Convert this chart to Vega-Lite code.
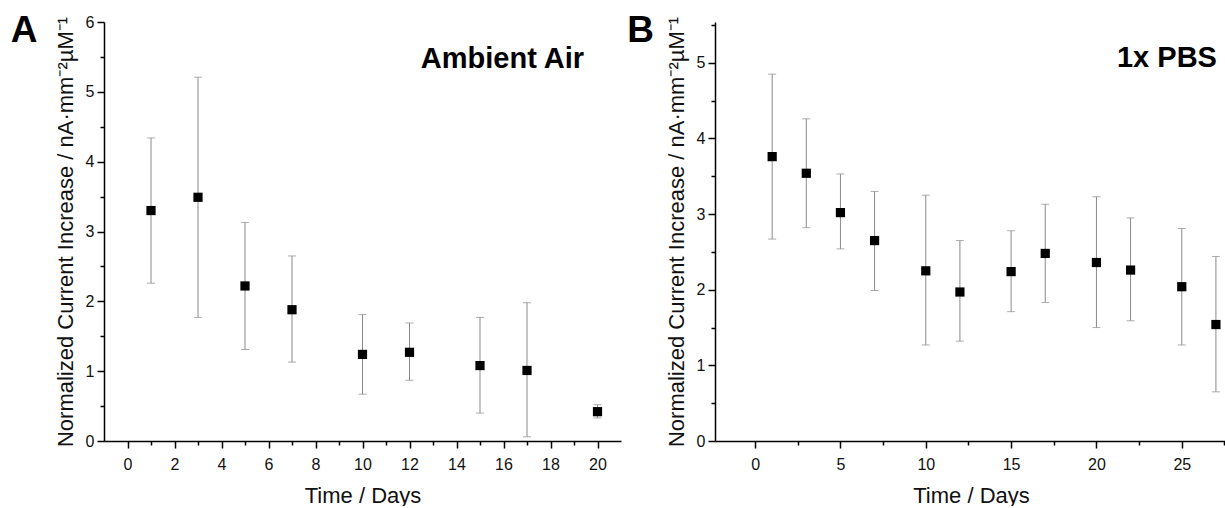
{
  "$schema": "https://vega.github.io/schema/vega-lite/v6.json",
  "padding": {"left": 10, "top": 11, "right": 0, "bottom": 0},
  "spacing": 6,
  "background": "white",
  "datasets": {
    "air": [
      {"day": 1, "mean": 3.30, "lo": 2.26, "hi": 4.34},
      {"day": 3, "mean": 3.49, "lo": 1.77, "hi": 5.21},
      {"day": 5, "mean": 2.22, "lo": 1.31, "hi": 3.13},
      {"day": 7, "mean": 1.88, "lo": 1.13, "hi": 2.65},
      {"day": 10, "mean": 1.24, "lo": 0.67, "hi": 1.81},
      {"day": 12, "mean": 1.27, "lo": 0.87, "hi": 1.69},
      {"day": 15, "mean": 1.08, "lo": 0.40, "hi": 1.77},
      {"day": 17, "mean": 1.01, "lo": 0.06, "hi": 1.98},
      {"day": 20, "mean": 0.42, "lo": 0.33, "hi": 0.52}
    ],
    "pbs": [
      {"day": 1, "mean": 3.76, "lo": 2.67, "hi": 4.85},
      {"day": 3, "mean": 3.54, "lo": 2.82, "hi": 4.26},
      {"day": 5, "mean": 3.02, "lo": 2.54, "hi": 3.53},
      {"day": 7, "mean": 2.65, "lo": 1.99, "hi": 3.30},
      {"day": 10, "mean": 2.25, "lo": 1.27, "hi": 3.25},
      {"day": 12, "mean": 1.97, "lo": 1.32, "hi": 2.65},
      {"day": 15, "mean": 2.24, "lo": 1.71, "hi": 2.78},
      {"day": 17, "mean": 2.48, "lo": 1.83, "hi": 3.13},
      {"day": 20, "mean": 2.36, "lo": 1.50, "hi": 3.23},
      {"day": 22, "mean": 2.26, "lo": 1.59, "hi": 2.95},
      {"day": 25, "mean": 2.04, "lo": 1.27, "hi": 2.81},
      {"day": 27, "mean": 1.54, "lo": 0.65, "hi": 2.44}
    ]
  },
  "hconcat": [
    {
      "width": 517,
      "height": 419,
      "data": {"name": "air"},
      "resolve": {"axis": {"x": "independent", "y": "independent"}},
      "layer": [
        {
          "mark": {"type": "rule", "color": "#8a8a8a", "strokeWidth": 1},
          "encoding": {
            "x": {"field": "day", "type": "quantitative", "scale": {"domain": [-1, 21], "nice": false, "zero": false}, "axis": null},
            "y": {"field": "lo", "type": "quantitative", "scale": {"domain": [0, 6], "nice": false}, "axis": null},
            "y2": {"field": "hi"}
          }
        },
        {
          "mark": {"type": "tick", "orient": "horizontal", "color": "#8a8a8a", "size": 8, "thickness": 1},
          "encoding": {
            "x": {"field": "day", "type": "quantitative", "axis": null},
            "y": {"field": "lo", "type": "quantitative", "axis": null}
          }
        },
        {
          "mark": {"type": "tick", "orient": "horizontal", "color": "#8a8a8a", "size": 8, "thickness": 1},
          "encoding": {
            "x": {"field": "day", "type": "quantitative", "axis": null},
            "y": {"field": "hi", "type": "quantitative", "axis": null}
          }
        },
        {
          "mark": {"type": "point", "shape": "square", "filled": true, "color": "#000", "opacity": 0},
          "encoding": {
            "x": {"field": "day", "type": "quantitative",
                  "axis": {"orient": "bottom", "values": [1, 3, 5, 7, 9, 11, 13, 15, 17, 19], "labels": false, "domain": false, "title": null, "tickSize": 4}},
            "y": {"field": "mean", "type": "quantitative",
                  "axis": {"orient": "left", "values": [0.5, 1.5, 2.5, 3.5, 4.5, 5.5], "labels": false, "domain": false, "title": null, "tickSize": 4}}
          }
        },
        {
          "mark": {"type": "point", "shape": "square", "filled": true, "color": "#000", "size": 85, "opacity": 1},
          "encoding": {
            "x": {"field": "day", "type": "quantitative",
                  "axis": {"orient": "bottom", "values": [0, 2, 4, 6, 8, 10, 12, 14, 16, 18, 20], "title": "Time / Days", "tickSize": 7, "labelPadding": 8, "titlePadding": 13}},
            "y": {"field": "mean", "type": "quantitative",
                  "axis": {"orient": "left", "values": [0, 1, 2, 3, 4, 5, 6], "title": "Normalized Current Increase / nA·mm⁻²µM⁻¹", "tickSize": 7, "labelPadding": 3, "titlePadding": 8}}
          }
        },
        {
          "data": {"values": [{}]},
          "mark": {"type": "text", "text": "A", "font": "Liberation Sans", "fontWeight": "bold", "fontSize": 37, "align": "center", "baseline": "alphabetic", "color": "#000"},
          "encoding": {"x": {"datum": -4.4, "type": "quantitative", "axis": null}, "y": {"datum": 5.71, "type": "quantitative", "axis": null}}
        },
        {
          "data": {"values": [{}]},
          "mark": {"type": "text", "text": "Ambient Air", "font": "Liberation Sans", "fontWeight": "bold", "fontSize": 29, "align": "right", "baseline": "alphabetic", "color": "#000"},
          "encoding": {"x": {"datum": 19.43, "type": "quantitative", "axis": null}, "y": {"datum": 5.34, "type": "quantitative", "axis": null}}
        }
      ]
    },
    {
      "width": 512,
      "height": 419,
      "data": {"name": "pbs"},
      "resolve": {"axis": {"x": "independent", "y": "independent"}},
      "layer": [
        {
          "mark": {"type": "rule", "color": "#8a8a8a", "strokeWidth": 1},
          "encoding": {
            "x": {"field": "day", "type": "quantitative", "scale": {"domain": [-2.35, 27.65], "nice": false, "zero": false}, "axis": null},
            "y": {"field": "lo", "type": "quantitative", "scale": {"domain": [0, 5.54], "nice": false}, "axis": null},
            "y2": {"field": "hi"}
          }
        },
        {
          "mark": {"type": "tick", "orient": "horizontal", "color": "#8a8a8a", "size": 8, "thickness": 1},
          "encoding": {
            "x": {"field": "day", "type": "quantitative", "axis": null},
            "y": {"field": "lo", "type": "quantitative", "axis": null}
          }
        },
        {
          "mark": {"type": "tick", "orient": "horizontal", "color": "#8a8a8a", "size": 8, "thickness": 1},
          "encoding": {
            "x": {"field": "day", "type": "quantitative", "axis": null},
            "y": {"field": "hi", "type": "quantitative", "axis": null}
          }
        },
        {
          "mark": {"type": "point", "shape": "square", "filled": true, "color": "#000", "opacity": 0},
          "encoding": {
            "x": {"field": "day", "type": "quantitative",
                  "axis": {"orient": "bottom", "values": [2.5, 7.5, 12.5, 17.5, 22.5, 27.5], "labels": false, "domain": false, "title": null, "tickSize": 4}},
            "y": {"field": "mean", "type": "quantitative",
                  "axis": {"orient": "left", "values": [0.5, 1.5, 2.5, 3.5, 4.5, 5.5], "labels": false, "domain": false, "title": null, "tickSize": 4}}
          }
        },
        {
          "mark": {"type": "point", "shape": "square", "filled": true, "color": "#000", "size": 85, "opacity": 1},
          "encoding": {
            "x": {"field": "day", "type": "quantitative",
                  "axis": {"orient": "bottom", "values": [0, 5, 10, 15, 20, 25], "title": "Time / Days", "tickSize": 7, "labelPadding": 8, "titlePadding": 13}},
            "y": {"field": "mean", "type": "quantitative",
                  "axis": {"orient": "left", "values": [0, 1, 2, 3, 4, 5], "title": "Normalized Current Increase / nA·mm⁻²µM⁻¹", "tickSize": 7, "labelPadding": 3, "titlePadding": 8}}
          }
        },
        {
          "data": {"values": [{}]},
          "mark": {"type": "text", "text": "B", "font": "Liberation Sans", "fontWeight": "bold", "fontSize": 37, "align": "center", "baseline": "alphabetic", "color": "#000"},
          "encoding": {"x": {"datum": -6.71, "type": "quantitative", "axis": null}, "y": {"datum": 5.28, "type": "quantitative", "axis": null}}
        },
        {
          "data": {"values": [{}]},
          "mark": {"type": "text", "text": "1x PBS", "font": "Liberation Sans", "fontWeight": "bold", "fontSize": 29, "align": "right", "baseline": "alphabetic", "color": "#000"},
          "encoding": {"x": {"datum": 27.06, "type": "quantitative", "axis": null}, "y": {"datum": 4.95, "type": "quantitative", "axis": null}}
        }
      ]
    }
  ],
  "config": {
    "view": {"stroke": null},
    "axis": {
      "grid": false,
      "domainColor": "#000",
      "domainWidth": 1.5,
      "tickColor": "#000",
      "tickWidth": 1.5,
      "labelFont": "Liberation Sans",
      "labelFontSize": 16,
      "labelColor": "#111",
      "labelFlush": false,
      "labelOverlap": false,
      "titleFont": "Liberation Sans",
      "titleFontSize": 22,
      "titleFontWeight": "normal",
      "titleColor": "#111"
    }
  }
}
